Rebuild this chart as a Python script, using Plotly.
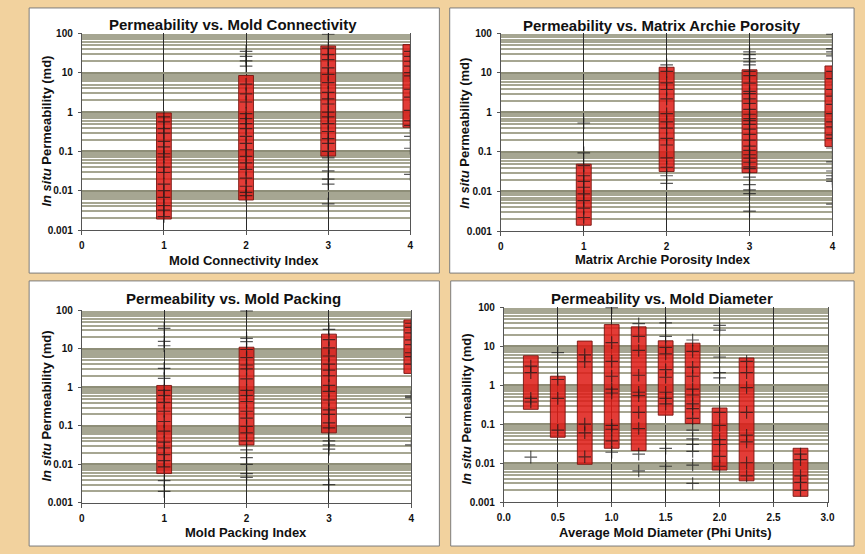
import plotly.graph_objects as go

W, H = 865, 554

# ---------------- data ----------------
# Mold connectivity index
conn_idx = [1, 2, 3, 4]
conn_low = [0.0019, 0.0058, 0.076, 0.41]
conn_high = [0.95, 8.5, 48, 52]
conn_points = [
    [0.75, 0.56, 0.38, 0.29, 0.18, 0.13, 0.087, 0.072, 0.04, 0.029, 0.0147,
     0.01, 0.0068, 0.0042, 0.0032, 0.0022],
    [35, 26, 20, 14.7, 5.1, 2.9, 1.8, 0.91, 0.68, 0.51, 0.38, 0.24, 0.16,
     0.11, 0.075, 0.051, 0.035, 0.021, 0.013, 0.0091, 0.0075],
    [95, 42, 29, 21.5, 13.3, 9.1, 5.6, 3.16, 2.15, 1.6, 1.0, 0.75, 0.51, 0.32,
     0.21, 0.16, 0.1, 0.068, 0.032, 0.0196, 0.0147, 0.0046],
    [35, 26, 19.6, 14.7, 10, 8.3, 3.8, 2.4, 1.1, 0.6, 0.46, 0.24, 0.12, 0.026],
]

# Matrix Archie porosity index
arch_idx = [1, 2, 3, 4]
arch_low = [0.0014, 0.032, 0.030, 0.138]
arch_high = [0.049, 13.9, 12, 15]
arch_points = [
    [0.54, 0.095, 0.045, 0.025, 0.018, 0.0128, 0.0087, 0.0059, 0.0038, 0.0022],
    [16, 10.9, 5.6, 3.8, 2.2, 0.93, 0.58, 0.4, 0.22, 0.15, 0.071, 0.041,
     0.025, 0.016],
    [34, 29, 23, 19, 16, 11, 8.5, 5.5, 3.4, 3.0, 2.2, 1.7, 1.2, 0.9, 0.7,
     0.62, 0.5, 0.38, 0.28, 0.2, 0.14, 0.11, 0.085, 0.07, 0.055, 0.042,
     0.038, 0.023, 0.015, 0.011, 0.0088, 0.0032],
    [96, 41, 34, 27, 11, 7.2, 3.8, 2.6, 1.6, 0.93, 0.58, 0.43, 0.27, 0.22,
     0.126, 0.056, 0.033, 0.025, 0.021, 0.018, 0.0048],
]

# Mold packing index
pack_idx = [1, 2, 3, 4]
pack_low = [0.0058, 0.032, 0.066, 2.3]
pack_high = [1.12, 11, 24, 56]
pack_points = [
    [34, 15.6, 12, 3.1, 1.7, 0.83, 0.62, 0.41, 0.24, 0.13, 0.073, 0.038,
     0.027, 0.018, 0.0126, 0.0086, 0.0038, 0.0020],
    [96, 18.7, 15.4, 9.6, 5.9, 3.8, 3.0, 1.66, 0.83, 0.62, 0.43, 0.24, 0.16,
     0.097, 0.066, 0.041, 0.024, 0.015, 0.01, 0.0058, 0.0046],
    [32, 17.3, 10.6, 6.5, 4.0, 2.8, 2.0, 1.12, 0.79, 0.47, 0.26, 0.2, 0.12,
     0.089, 0.041, 0.032, 0.025, 0.003],
    [46, 36, 26, 17, 12.9, 7.9, 6.3, 4.0, 0.59, 0.54, 0.166, 0.032],
]

# Average mold diameter (phi units)
diam_phi = [0.25, 0.5, 0.75, 1.0, 1.25, 1.5, 1.75, 2.0, 2.25, 2.75]
diam_low = [0.24, 0.046, 0.0093, 0.024, 0.021, 0.17, 0.104, 0.0066, 0.0035, 0.0014]
diam_high = [5.7, 1.7, 13.6, 36, 31.5, 13.8, 12, 0.26, 5.0, 0.024]
diam_points = [
    [3.1, 2.1, 0.46, 0.37, 0.0142],
    [6.9, 1.4, 0.46, 0.07],
    [6.0, 4.0, 0.1, 0.06, 0.0145],
    [98, 12.4, 4.1, 1.7, 0.79, 0.63, 0.093, 0.074, 0.037, 0.019],
    [38, 18, 7.8, 1.8, 0.66, 0.54, 0.2, 0.077, 0.017, 0.0063],
    [40, 18, 9.4, 6.4, 2.5, 1.6, 0.66, 0.46, 0.33, 0.024, 0.0083],
    [14.5, 7.4, 2.9, 1.7, 0.79, 0.56, 0.33, 0.25, 0.14, 0.07, 0.042, 0.03,
     0.02, 0.0089, 0.003],
    [34.5, 26, 5.3, 2.1, 1.55, 0.2, 0.093, 0.04, 0.03, 0.0148, 0.0083],
    [4.1, 2.1, 0.87, 0.2, 0.052, 0.035, 0.0102, 0.0047],
    [0.017, 0.0123, 0.0047, 0.0032, 0.002],
]

y_tick_vals = [0.001, 0.01, 0.1, 1, 10, 100]
y_tick_text = ["0.001", "0.01", "0.1", "1", "10", "100"]
y_minor_vals = [k * 10 ** e for e in range(-3, 2) for k in range(2, 10)]

# ---------------- styling ----------------
PAGE_BG = "#F2D29E"
PLOT_BG = "#FEFDCA"
BAR_FILL = "rgba(222,28,22,0.86)"
BAR_EDGE = "rgba(120,20,15,0.9)"
MARK_COLOR = "rgba(25,25,25,0.72)"
FONT = "Arial, Liberation Sans, Helvetica, sans-serif"


def px(x):
    return x / W


def py(y):
    return 1 - y / H


panels = [
    dict(s="", xd=(76, 410), yd=(28, 229), card=(22.5, 2, 439.5, 273),
         title="Permeability vs. Mold Connectivity", tpos=(230, 19),
         xtitle="Mold Connectivity Index", xtpos=(241, 260), ytpos=(40, 128),
         xr=[0, 4], dt=1, fmt="d", bw=0.18,
         cats=conn_idx, low=conn_low, high=conn_high, pts=conn_points),
    dict(s="2", xd=(502, 839), yd=(28, 230), card=(450, 2, 861, 273),
         title="Permeability vs. Matrix Archie Porosity", tpos=(666, 20),
         xtitle="Matrix Archie Porosity Index", xtpos=(667, 259), ytpos=(465, 130),
         xr=[0, 4], dt=1, fmt="d", bw=0.18,
         cats=arch_idx, low=arch_low, high=arch_high, pts=arch_points),
    dict(s="3", xd=(76, 411), yd=(311, 508), card=(22.5, 281, 439.5, 552),
         title="Permeability vs. Mold Packing", tpos=(230, 299),
         xtitle="Mold Packing Index", xtpos=(243, 538), ytpos=(40, 409),
         xr=[0, 4], dt=1, fmt="d", bw=0.18,
         cats=pack_idx, low=pack_low, high=pack_high, pts=pack_points),
    dict(s="4", xd=(505, 834), yd=(308, 507), card=(451, 281, 861, 552),
         title="Permeability vs. Mold Diameter", tpos=(666, 299),
         xtitle="Average Mold Diameter (Phi Units)", xtpos=(669, 538), ytpos=(467, 412),
         xr=[0, 3], dt=0.5, fmt=".1f", bw=0.137,
         cats=diam_phi, low=diam_low, high=diam_high, pts=diam_points),
]

fig = go.Figure()
shapes = []
annotations = []

for p in panels:
    xa = "x" + p["s"]
    ya = "y" + p["s"]

    # floating range bars
    fig.add_trace(go.Bar(
        x=p["cats"],
        y=[h - l for l, h in zip(p["low"], p["high"])],
        base=p["low"],
        width=p["bw"],
        marker=dict(color=BAR_FILL, line=dict(color=BAR_EDGE, width=1)),
        xaxis=xa, yaxis=ya, showlegend=False, hoverinfo="skip",
    ))

    # individual permeability measurements
    xs, ys = [], []
    for c, vals in zip(p["cats"], p["pts"]):
        xs += [c] * len(vals)
        ys += vals
    fig.add_trace(go.Scatter(
        x=xs, y=ys, mode="markers",
        marker=dict(symbol="cross-thin", size=9,
                    line=dict(color=MARK_COLOR, width=1.2)),
        xaxis=xa, yaxis=ya, showlegend=False,
    ))

    x0, y0, x1, y1 = p["card"]
    shapes.append(dict(type="rect", xref="paper", yref="paper",
                       x0=px(x0), x1=px(x1), y0=py(y1), y1=py(y0),
                       fillcolor="white", line=dict(color="#7d7d7d", width=1),
                       layer="below"))

    annotations.append(dict(text=p["title"], xref="paper", yref="paper",
                            x=px(p["tpos"][0]), y=py(p["tpos"][1]),
                            xanchor="center", yanchor="middle", showarrow=False,
                            font=dict(family=FONT, size=15, color="#111", weight="bold")))
    annotations.append(dict(text=p["xtitle"], xref="paper", yref="paper",
                            x=px(p["xtpos"][0]), y=py(p["xtpos"][1]),
                            xanchor="center", yanchor="middle", showarrow=False,
                            font=dict(family=FONT, size=13, color="#111", weight="bold")))
    annotations.append(dict(text="<i>In situ</i> Permeability (md)", xref="paper", yref="paper",
                            x=px(p["ytpos"][0]), y=py(p["ytpos"][1]), textangle=-90,
                            xanchor="center", yanchor="middle", showarrow=False,
                            font=dict(family=FONT, size=13, color="#111", weight="bold")))

    xkey = "xaxis" + p["s"]
    ykey = "yaxis" + p["s"]
    fig.update_layout(**{
        xkey: dict(
            domain=[px(p["xd"][0]), px(p["xd"][1])],
            anchor=ya, range=p["xr"], dtick=p["dt"], tick0=0,
            tickformat=p["fmt"],
            showgrid=True, gridcolor="#2a2a2a", gridwidth=1,
            showline=True, linecolor="#555", linewidth=1,
            ticks="outside", ticklen=4, tickcolor="#555",
            ticklabelstandoff=2,
            tickfont=dict(family=FONT, size=10, color="#111", weight="bold"),
            zeroline=False, fixedrange=True,
        ),
        ykey: dict(
            domain=[py(p["yd"][1]), py(p["yd"][0])],
            anchor=xa, type="log", range=[-3, 2],
            tickvals=y_tick_vals, ticktext=y_tick_text,
            showgrid=True, gridcolor="#8e8e78", gridwidth=2,
            minor=dict(tickvals=y_minor_vals, showgrid=True,
                       gridcolor="rgba(128,128,100,0.7)", gridwidth=1.5, ticks=""),
            showline=True, linecolor="#555", linewidth=1, mirror=True,
            ticks="outside", ticklen=3, tickcolor="#555",
            ticklabelstandoff=3,
            tickfont=dict(family=FONT, size=10, color="#111", weight="bold"),
            zeroline=False, fixedrange=True,
        ),
    })

fig.update_layout(
    width=W, height=H,
    margin=dict(l=0, r=0, t=0, b=0),
    paper_bgcolor=PAGE_BG,
    plot_bgcolor=PLOT_BG,
    shapes=shapes,
    annotations=annotations,
    showlegend=False,
    barmode="overlay",
)

fig.write_html("out.html")
